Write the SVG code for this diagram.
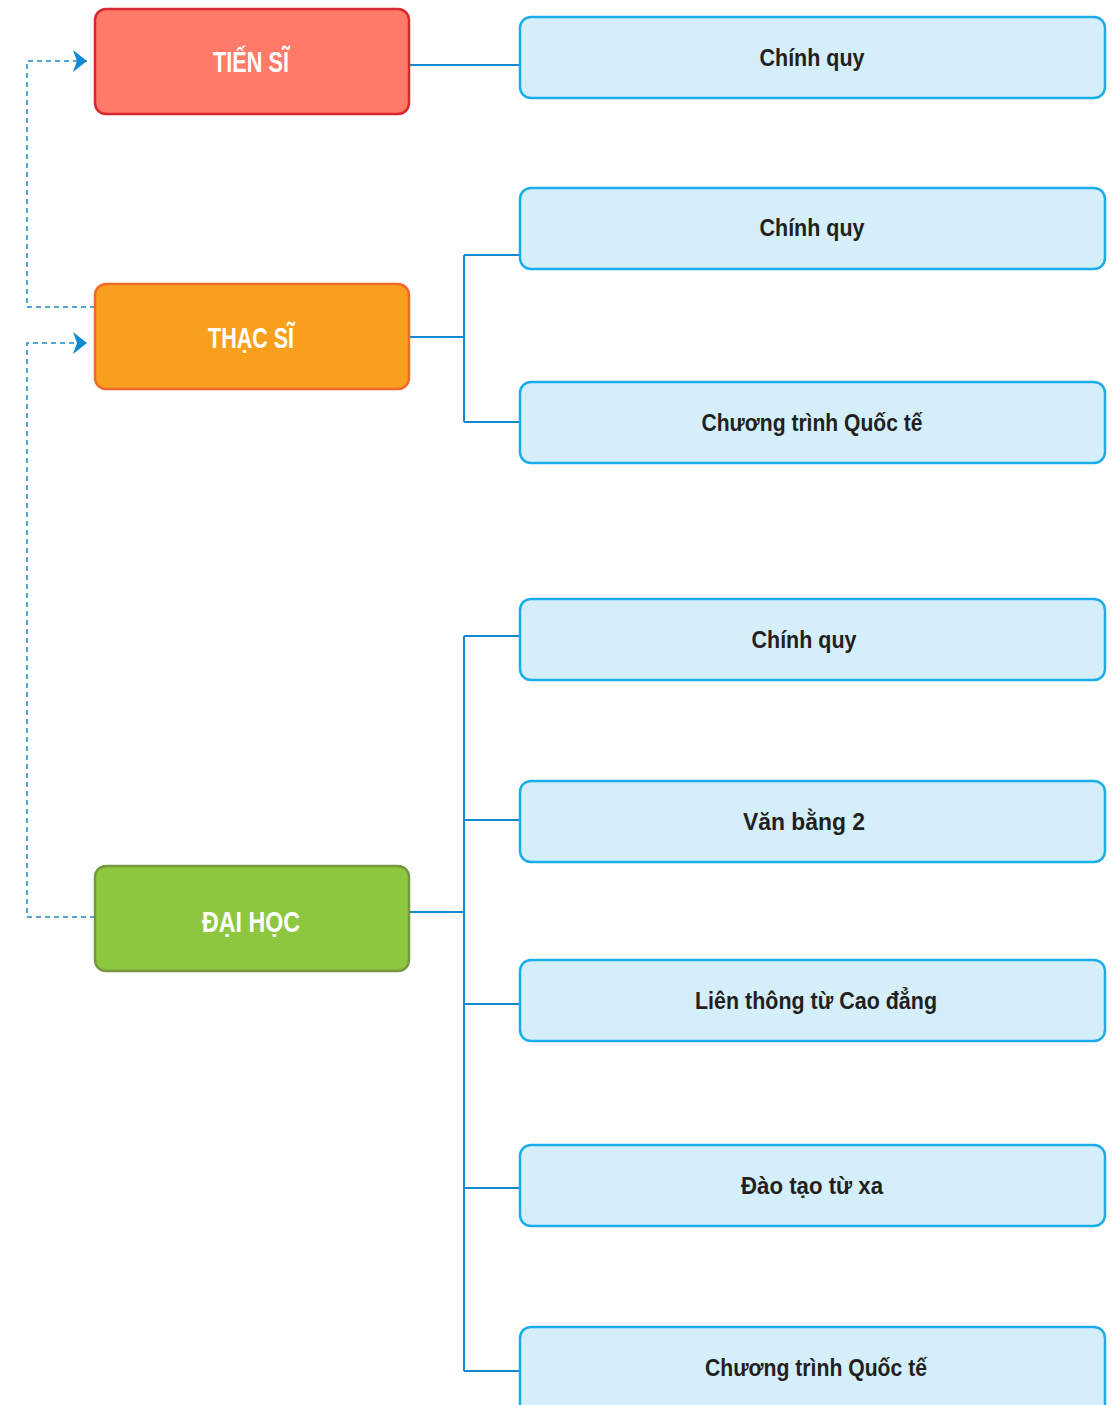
<svg xmlns="http://www.w3.org/2000/svg" width="1118" height="1405" viewBox="0 0 1118 1405">
<style>
.lv{stroke-width:2.5}
.lt{font-family:"Liberation Sans",Arial,sans-serif;font-weight:bold;font-size:30px;fill:#ffffff;text-anchor:middle}
.bx{fill:#D4EEFA;stroke:#1BADE9;stroke-width:2.5}
.bt{font-family:"Liberation Sans",Arial,sans-serif;font-weight:bold;font-size:24px;fill:#231F20;text-anchor:middle}
.cn{fill:none;stroke:#1089D0;stroke-width:2}
.ds{fill:none;stroke:#1E88C8;stroke-width:1.5;stroke-dasharray:5,4}
</style>
<defs>
<marker id="ah" viewBox="0 0 14 22" refX="14" refY="11" markerWidth="14" markerHeight="22" markerUnits="userSpaceOnUse" orient="auto">
<path d="M0,0 L14,11 L0,22 L4,11 Z" fill="#1089D0"/>
</marker>
</defs>
<g id="connectors">
<path class="cn" d="M409,65 H520"/>
<path class="cn" d="M409,337 H464 M464,255 V422 M464,255 H520 M464,422 H520"/>
<path class="cn" d="M409,912 H464 M464,636 V1371 M464,636 H520 M464,820 H520 M464,1004 H520 M464,1188 H520 M464,1371 H520"/>
<path class="ds" d="M95,307 H27 V61 H87" marker-end="url(#ah)"/>
<path class="ds" d="M95,917 H27 V343 H87" marker-end="url(#ah)"/>
</g>
<g id="tien-si">
<rect x="95" y="9" width="314" height="105" rx="11" fill="#FF7B67" stroke="#D9272E" class="lv"/>
<text class="lt" x="251" y="72" textLength="76" lengthAdjust="spacingAndGlyphs">TIẾN SĨ</text>
</g>
<g id="thac-si">
<rect x="95" y="284" width="314" height="105" rx="11" fill="#F8A01E" stroke="#F2692A" class="lv"/>
<text class="lt" x="251" y="348" textLength="86" lengthAdjust="spacingAndGlyphs">THẠC SĨ</text>
</g>
<g id="dai-hoc">
<rect x="95" y="866" width="314" height="105" rx="11" fill="#8DC63F" stroke="#76963F" class="lv"/>
<text class="lt" x="251" y="932" textLength="98" lengthAdjust="spacingAndGlyphs">ĐẠI HỌC</text>
</g>
<g id="ts-chinh-quy">
<rect class="bx" x="520" y="17" width="585" height="81" rx="11"/>
<text class="bt" x="812" y="66" textLength="105" lengthAdjust="spacingAndGlyphs">Chính quy</text>
</g>
<g id="ths-chinh-quy">
<rect class="bx" x="520" y="188" width="585" height="81" rx="11"/>
<text class="bt" x="812" y="236" textLength="105" lengthAdjust="spacingAndGlyphs">Chính quy</text>
</g>
<g id="ths-quoc-te">
<rect class="bx" x="520" y="382" width="585" height="81" rx="11"/>
<text class="bt" x="812" y="431" textLength="221" lengthAdjust="spacingAndGlyphs">Chương trình Quốc tế</text>
</g>
<g id="dh-chinh-quy">
<rect class="bx" x="520" y="599" width="585" height="81" rx="11"/>
<text class="bt" x="804" y="648" textLength="105" lengthAdjust="spacingAndGlyphs">Chính quy</text>
</g>
<g id="dh-van-bang-2">
<rect class="bx" x="520" y="781" width="585" height="81" rx="11"/>
<text class="bt" x="804" y="830" textLength="122" lengthAdjust="spacingAndGlyphs">Văn bằng 2</text>
</g>
<g id="dh-lien-thong">
<rect class="bx" x="520" y="960" width="585" height="81" rx="11"/>
<text class="bt" x="816" y="1009" textLength="242" lengthAdjust="spacingAndGlyphs">Liên thông từ Cao đẳng</text>
</g>
<g id="dh-tu-xa">
<rect class="bx" x="520" y="1145" width="585" height="81" rx="11"/>
<text class="bt" x="812" y="1194" textLength="142" lengthAdjust="spacingAndGlyphs">Đào tạo từ xa</text>
</g>
<g id="dh-quoc-te">
<rect class="bx" x="520" y="1327" width="585" height="90" rx="11"/>
<text class="bt" x="816" y="1376" textLength="222" lengthAdjust="spacingAndGlyphs">Chương trình Quốc tế</text>
</g>
</svg>
